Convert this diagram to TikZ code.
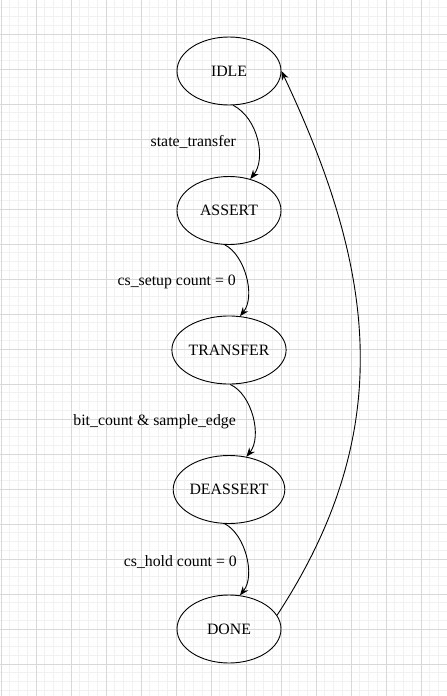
\documentclass[tikz,border=0pt]{standalone}
\usepackage{fontspec}
\setmainfont{Liberation Serif}
\usetikzlibrary{shapes.geometric,arrows.meta}
\definecolor{gridminor}{RGB}{241,241,241}
\definecolor{gridmajor}{RGB}{216,216,216}
\begin{document}
\begin{tikzpicture}[x=1pt,y=-1pt,
  stbox/.style={draw=black, line width=0.9pt, ellipse, minimum width=104pt, minimum height=68pt, inner sep=0pt, font=\fontsize{15.8}{18}\selectfont},
  lbl/.style={anchor=east, inner sep=0pt, font=\fontsize{15.8}{18}\selectfont},
  trans/.style={draw=black, line width=0.9pt, -{Stealth[length=9pt,width=7pt]}},
  minorline/.style={draw=gridminor, line width=0.8pt},
  majorline/.style={draw=gridmajor, line width=0.9pt}]
\useasboundingbox (0,0) rectangle (447,696);
\begin{scope}
\clip (0,0) rectangle (447,696);
\fill[white] (0,0) rectangle (447,696);
\foreach \i in {0,...,51} {\draw[minorline] ({1+8.75*\i},0) -- ({1+8.75*\i},696);}
\foreach \i in {1,...,80} {\draw[minorline] (0,{-1+8.75*\i}) -- (447,{-1+8.75*\i});}
\foreach \i in {0,...,12} {\draw[majorline] ({1+35*\i},0) -- ({1+35*\i},696);}
\foreach \i in {1,...,19} {\draw[majorline] (0,{-1+35*\i}) -- (447,{-1+35*\i});}
\end{scope}

\node[stbox] (idle) at (229,71) {IDLE};
\node[stbox] (assert) at (229,210.5) {ASSERT};
\node[stbox] (transfer) at (229,350) {TRANSFER};
\node[stbox] (deassert) at (229,489.5) {DEASSERT};
\node[stbox] (done) at (229,629) {DONE};

\node[lbl] (l1) at (236,142) {state\_transfer};
\node[lbl] (l2) at (236,282) {cs\_setup count = 0};
\node[lbl] (l3) at (236,422) {bit\_count \& sample\_edge};
\node[lbl] (l4) at (237,562) {cs\_hold count = 0};

\draw[trans] (idle.-83) .. controls +(25,13) and +(16,-20) .. (assert.56);
\draw[trans] (assert.-97) .. controls +(20,10) and +(16,-20) .. (transfer.72);
\draw[trans] (transfer.-88) .. controls +(22,10) and +(16,-20) .. (deassert.62);
\draw[trans] (deassert.-97) .. controls +(20,10) and +(16,-20) .. (done.72);
\draw[trans] (done.16) .. controls +(121,-185) and +(94,199) .. (idle.east);
\end{tikzpicture}
\end{document}
